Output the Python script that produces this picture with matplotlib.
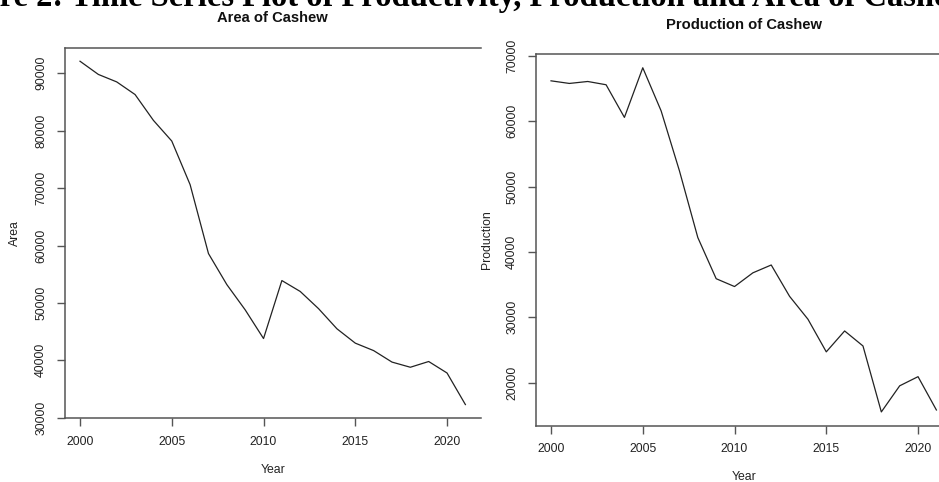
import matplotlib.pyplot as plt

years = list(range(2000, 2022))

# area under cashew (ha)
area = [92100, 89800, 88500, 86300, 81800, 78200, 70600, 58600, 53200, 48800, 43800,
        53900, 52000, 49000, 45500, 43000, 41700, 39700, 38800, 39800, 37800, 32300]

# cashew production (tonnes)
production = [66200, 65800, 66100, 65600, 60600, 68200, 61600, 52400, 42200, 35900, 34700,
              36800, 38000, 33200, 29700, 24700, 27900, 25600, 15500, 19500, 20900, 15800]

area_ticks = [30000, 40000, 50000, 60000, 70000, 80000, 90000]
prod_ticks = [20000, 30000, 40000, 50000, 60000, 70000]
year_ticks = [2000, 2005, 2010, 2015, 2020]

plt.rcParams['font.family'] = ['Liberation Sans', 'DejaVu Sans']

fig = plt.figure(figsize=(9.39, 4.82), dpi=100)
W, H = 939, 482

def r_range(vals):
    # R style axis range: data range padded by 4% on each side
    lo, hi = min(vals), max(vals)
    d = (hi - lo) * 0.04
    return lo - d, hi + d

def ts_panel(rect, values, yticks, title, title_y, ylab):
    left, top, right, bottom = rect
    ax = fig.add_axes([left / W, 1 - bottom / H, (right - left) / W, (bottom - top) / H])
    ax.plot(years, values, color='#222222', lw=0.9)
    ax.set_xlim(*r_range(years))
    ax.set_ylim(*r_range(values))
    ax.set_xticks(year_ticks)
    ax.set_yticks(yticks)
    ax.set_yticklabels([str(t) for t in yticks])
    ax.tick_params(axis='both', length=6, width=1.0, color='#555555', pad=6.5,
                   labelsize=8.8, labelcolor='#222222')
    ax.tick_params(axis='y', labelrotation=90)
    for lbl in ax.get_yticklabels():
        lbl.set_va('center')
    for side in ['left', 'bottom', 'top']:
        ax.spines[side].set_color('#555555')
        ax.spines[side].set_linewidth(1.1)
    ax.spines['right'].set_visible(False)
    ax.text(0.5, 1 + (top - title_y) / (bottom - top), title,
            transform=ax.transAxes, ha='center', va='center', fontsize=10.6,
            fontweight='bold', color='#111111')
    ax.set_xlabel('Year', fontsize=8.8, color='#222222')
    ax.set_ylabel(ylab, fontsize=8.8, color='#222222')
    return ax

ax1 = ts_panel((64.6, 47.5, 480.8, 418.3), area, area_ticks, 'Area of Cashew', 18.5, 'Area')
ax1.xaxis.set_label_coords(0.5, -(470 - 418.3) / 370.8)
ax1.yaxis.set_label_coords((15 - 64.6) / 416.2, 0.5)

ax2 = ts_panel((535.6, 54, 951.8, 425.7), production, prod_ticks,
               'Production of Cashew', 25, 'Production')
ax2.xaxis.set_label_coords(0.5, -(477 - 425.7) / 371.7)
ax2.yaxis.set_label_coords((486.7 - 535.6) / 416.2, 0.5)
for ax in (ax1, ax2):
    ax.xaxis.label.set_va('center')
    ax.yaxis.label.set_va('center')

# figure caption sitting above the panels
fig.text(-64 / W, 1 - 6 / H,
         'Figure 2: Time Series Plot of Productivity, Production and Area of Cashew',
         family=['Liberation Serif', 'DejaVu Serif'], fontweight='bold', fontsize=23.5,
         ha='left', va='baseline', color='black')

fig.savefig('out.png', dpi=100)
